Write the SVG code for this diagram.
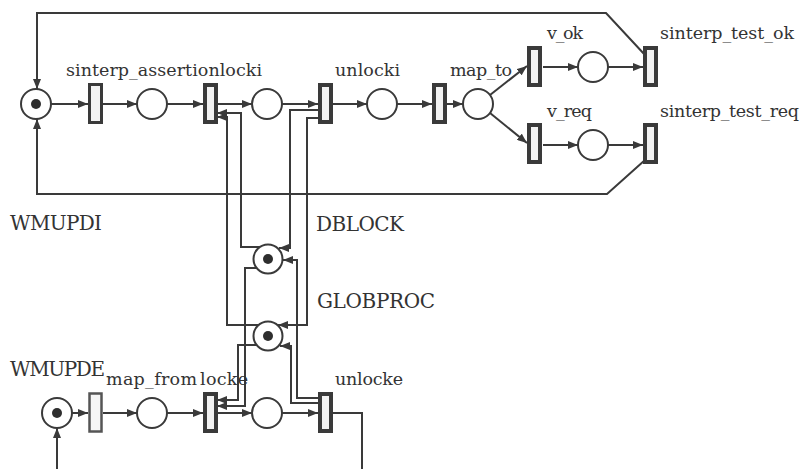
<svg xmlns="http://www.w3.org/2000/svg" width="804" height="469" viewBox="0 0 804 469">
<defs>
<marker id="ah" viewBox="0 0 10 8" refX="10" refY="4" markerWidth="10" markerHeight="8" markerUnits="userSpaceOnUse" orient="auto">
<path d="M0,0 L10,4 L0,8 z" fill="#3a3a3a"/>
</marker>
<style>
.pl{fill:#fff;stroke:#3a3a3a;stroke-width:2}
.tk{fill:#2e2e2e}
.tr{fill:#f2f2f2;stroke:#3a3a3a;stroke-width:4}
.trl{fill:#f6f6f6;stroke:#555;stroke-width:2.5}
.c{fill:none;stroke:#3a3a3a;stroke-width:2}
.a{marker-end:url(#ah)}
.lb{font-family:"DejaVu Serif","Liberation Serif",serif;font-size:17.5px;fill:#333}
.lc{font-family:"DejaVu Serif","Liberation Serif",serif;font-size:20px;fill:#333}
</style>
</defs>
<rect width="804" height="469" fill="#fff"/>

<g id="connectors">
<!-- top row -->
<path class="c a" d="M51,104 H88"/>
<path class="c a" d="M102,104 H137"/>
<path class="c a" d="M167,104 H203"/>
<path class="c a" d="M217,104 H252"/>
<path class="c a" d="M282,104 H318"/>
<path class="c a" d="M333,104 H367"/>
<path class="c a" d="M397,104 H432"/>
<path class="c a" d="M447,104 H463"/>
<path class="c a" d="M490,95 L527,66"/>
<path class="c a" d="M490,113 L527,143"/>
<path class="c a" d="M543,67 H578"/>
<path class="c a" d="M608,67 H643"/>
<path class="c a" d="M543,145 H578"/>
<path class="c a" d="M608,145 H643"/>
<!-- loops -->
<path class="c a" d="M645,55 L606,13 H37 V89"/>
<path class="c a" d="M645,160 L607,194 H37 V119"/>
<!-- lock arcs upper -->
<path class="c a" d="M259,325 H227 V117 H217"/>
<path class="c a" d="M260,247 H241 V113 H217"/>
<path class="c a" d="M318,110 H290 V248 H279"/>
<path class="c a" d="M318,118 H307 V325 H278"/>
<!-- lock arcs lower -->
<path class="c a" d="M257,268 H245 V406 H217"/>
<path class="c a" d="M257,345 H238 V400 H217"/>
<path class="c a" d="M318,398 H297 V260 H283"/>
<path class="c a" d="M318,403 H291 V346 H280"/>
<!-- bottom row -->
<path class="c a" d="M72,413 H88"/>
<path class="c a" d="M103,413 H137"/>
<path class="c a" d="M167,413 H203"/>
<path class="c a" d="M217,413 H252"/>
<path class="c a" d="M282,413 H318"/>
<path class="c" d="M333,413 H362 V469"/>
<path class="c a" d="M57,469 V428"/>
</g>

<g id="WMUPDI">
<circle class="pl" cx="36" cy="104" r="15"/>
<circle class="tk" cx="36" cy="104" r="5"/>
<text class="lc" x="10" y="230" textLength="92">WMUPDI</text>
</g>
<g id="t_sinterp_assertion">
<rect class="tr" x="89.5" y="84.5" width="12" height="38" style="stroke-width:3"/>
</g>
<g id="p1"><circle class="pl" cx="152" cy="104" r="15"/></g>
<g id="t_locki">
<rect class="tr" x="205" y="85" width="11" height="37"/>
<text class="lb" x="66" y="76" textLength="196">sinterp_assertionlocki</text>
</g>
<g id="p2"><circle class="pl" cx="267" cy="104" r="15"/></g>
<g id="t_unlocki">
<rect class="tr" x="320" y="85" width="11" height="37"/>
<text class="lb" x="335" y="76" textLength="65">unlocki</text>
</g>
<g id="p3"><circle class="pl" cx="382" cy="104" r="15"/></g>
<g id="t_map_to">
<rect class="tr" x="434" y="85" width="11" height="37"/>
<text class="lb" x="450" y="76" textLength="62">map_to</text>
</g>
<g id="p4"><circle class="pl" cx="478" cy="104" r="15"/></g>
<g id="t_v_ok">
<rect class="tr" x="529" y="48" width="11" height="37"/>
<text class="lb" x="547" y="39" textLength="36">v_ok</text>
</g>
<g id="p5"><circle class="pl" cx="593" cy="67" r="15"/></g>
<g id="t_sinterp_test_ok">
<rect class="tr" x="645" y="48" width="11" height="37"/>
<text class="lb" x="660" y="39" textLength="134">sinterp_test_ok</text>
</g>
<g id="t_v_req">
<rect class="tr" x="529" y="125" width="11" height="37"/>
<text class="lb" x="547" y="117" textLength="45">v_req</text>
</g>
<g id="p6"><circle class="pl" cx="593" cy="145" r="15"/></g>
<g id="t_sinterp_test_req">
<rect class="tr" x="645" y="125" width="11" height="37"/>
<text class="lb" x="660" y="117" textLength="139">sinterp_test_req</text>
</g>

<g id="DBLOCK">
<circle class="pl" cx="268" cy="259" r="14.5"/>
<circle class="tk" cx="268" cy="259" r="5"/>
<text class="lc" x="316" y="231" textLength="88">DBLOCK</text>
</g>
<g id="GLOBPROC">
<circle class="pl" cx="268" cy="336" r="14.5"/>
<circle class="tk" cx="268" cy="336" r="5"/>
<text class="lc" x="317" y="308" textLength="118">GLOBPROC</text>
</g>

<g id="WMUPDE">
<circle class="pl" cx="57" cy="413" r="15"/>
<circle class="tk" cx="57" cy="413" r="5"/>
<text class="lc" x="10" y="376" textLength="95">WMUPDE</text>
</g>
<g id="t_map_from">
<rect class="trl" x="89.5" y="393.5" width="12" height="38"/>
<text class="lb" x="106" y="385" textLength="91">map_from</text>
</g>
<g id="p7"><circle class="pl" cx="152" cy="413" r="15"/></g>
<g id="t_locke">
<rect class="tr" x="205" y="394" width="11" height="37"/>
<text class="lb" x="200" y="385" textLength="48">locke</text>
</g>
<g id="p8"><circle class="pl" cx="267" cy="413" r="15"/></g>
<g id="t_unlocke">
<rect class="tr" x="320" y="394" width="11" height="37"/>
<text class="lb" x="335" y="385" textLength="68">unlocke</text>
</g>
</svg>
